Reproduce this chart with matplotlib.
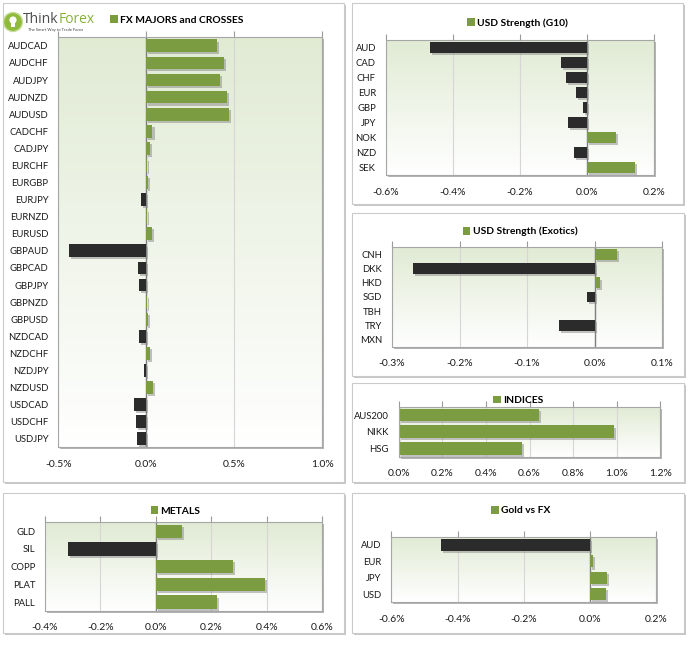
import numpy as np
import matplotlib.pyplot as plt
from matplotlib.patches import Rectangle, Patch, Circle
import matplotlib.patheffects as pe

plt.rcParams['font.family'] = ['Lato', 'DejaVu Sans']

W, H = 693, 647
GREEN = '#7c9c41'
DARK = '#2b2b2b'

# ---------------- DATA (% change) ----------------
fx_pairs = ['AUDCAD', 'AUDCHF', 'AUDJPY', 'AUDNZD', 'AUDUSD', 'CADCHF', 'CADJPY',
            'EURCHF', 'EURGBP', 'EURJPY', 'EURNZD', 'EURUSD', 'GBPAUD', 'GBPCAD',
            'GBPJPY', 'GBPNZD', 'GBPUSD', 'NZDCAD', 'NZDCHF', 'NZDJPY', 'NZDUSD',
            'USDCAD', 'USDCHF', 'USDJPY']
fx_vals = [0.40, 0.44, 0.42, 0.46, 0.47, 0.035, 0.02,
           0.002, 0.01, -0.03, 0.005, 0.03, -0.44, -0.045,
           -0.04, 0.003, 0.01, -0.04, 0.02, -0.015, 0.04,
           -0.07, -0.06, -0.055]

g10_ccy = ['AUD', 'CAD', 'CHF', 'EUR', 'GBP', 'JPY', 'NOK', 'NZD', 'SEK']
g10_vals = [-0.467, -0.078, -0.062, -0.032, -0.011, -0.056, 0.086, -0.038, 0.143]

exo_ccy = ['CNH', 'DKK', 'HKD', 'SGD', 'TBH', 'TRY', 'MXN']
exo_vals = [0.033, -0.269, 0.008, -0.011, 0.0, -0.053, 0.0]

idx_names = ['AUS200', 'NIKK', 'HSG']
idx_vals = [0.642, 0.986, 0.567]

metal_names = ['GLD', 'SIL', 'COPP', 'PLAT', 'PALL']
metal_vals = [0.093, -0.318, 0.277, 0.394, 0.219]

gold_ccy = ['AUD', 'EUR', 'JPY', 'USD']
gold_vals = [-0.451, 0.01, 0.052, 0.048]

# ---------------- FIGURE ----------------
fig = plt.figure(figsize=(W / 100, H / 100), dpi=100)
bg = fig.add_axes([0, 0, 1, 1], zorder=0)
bg.set_xlim(0, W)
bg.set_ylim(H, 0)
bg.axis('off')


def panel(x0, y0, x1, y1):
    bg.add_patch(Rectangle((x0 + 2, y0 + 2), x1 - x0, y1 - y0, fc='#c6c6c6', ec='none'))
    bg.add_patch(Rectangle((x0, y0), x1 - x0, y1 - y0, fc='white', ec='#cacaca', lw=0.8))


grad = np.linspace(0, 1, 256).reshape(-1, 1, 1)
top_c = np.array([0.88, 0.92, 0.83])
bot_c = np.array([1.0, 1.0, 1.0])
grad_img = top_c * (1 - grad) + bot_c * grad


def chart(plot, cats, vals, xlim, ticks, title, title_xy):
    x0, y0, x1, y1 = plot
    # plot area shadow
    bg.add_patch(Rectangle((x0 + 2, y0 + 2), x1 - x0, y1 - y0, fc='#b4b4b4', ec='none'))
    ax = fig.add_axes([x0 / W, 1 - y1 / H, (x1 - x0) / W, (y1 - y0) / H], zorder=1)
    ax.imshow(grad_img, extent=(0, 1, 0, 1), transform=ax.transAxes,
              aspect='auto', zorder=0)
    colors = [GREEN if v >= 0 else DARK for v in vals]
    y = np.arange(len(cats))
    bars = ax.barh(y, vals, height=0.75, color=colors, zorder=2)
    for b in bars:
        b.set_path_effects([pe.SimplePatchShadow(offset=(1.5, -1.5), shadow_rgbFace='#888888', alpha=0.5),
                            pe.Normal()])
    ax.axvline(0, color='#7f7f7f', lw=1, zorder=1.5)
    ax.set_xlim(*xlim)
    ax.set_ylim(len(cats) - 0.5, -0.5)
    ax.set_xticks(ticks)
    ax.set_xticklabels(['{:.1f}%'.format(t) for t in ticks])
    ax.set_yticks(y)
    ax.set_yticklabels(cats)
    ax.grid(axis='x', color='#d6d6d6', lw=0.8, zorder=1)
    ax.set_axisbelow(True)
    ax.tick_params(axis='x', top=True, bottom=False, labeltop=False, labelbottom=True,
                   length=4, color='#9a9a9a', pad=5, labelsize=7.5, labelcolor='#1a1a1a')
    ax.tick_params(axis='y', left=False, length=0, pad=7, labelsize=6.8, labelcolor='#1a1a1a')
    for s in ax.spines.values():
        s.set_color('#a6a6a6')
        s.set_linewidth(0.8)
    handle = Patch(facecolor=GREEN, edgecolor='none')
    fig.legend(handles=[handle], labels=[title], loc='center',
               bbox_to_anchor=(title_xy[0] / W, 1 - title_xy[1] / H),
               frameon=False, handlelength=0.75, handleheight=0.75, handletextpad=0.2,
               prop={'weight': 'bold', 'size': 7.4})
    return ax


# panel boxes
panel(3, 3, 344, 482)
panel(352, 3, 683, 204)
panel(352, 213, 684, 376)
panel(352, 383, 684, 482)
panel(3, 493, 344, 633)
panel(352, 493, 684, 633)

chart((58.3, 37.3, 322.3, 447.3), fx_pairs, fx_vals, (-0.5, 1.0),
      [-0.5, 0.0, 0.5, 1.0], 'FX MAJORS and CROSSES', (177, 20))
chart((385.7, 40, 654, 175.3), g10_ccy, g10_vals, (-0.6, 0.2),
      [-0.6, -0.4, -0.2, 0.0, 0.2], 'USD Strength (G10)', (517.5, 23))
chart((392, 247.3, 662.3, 346.7), exo_ccy, exo_vals, (-0.3, 0.1),
      [-0.3, -0.2, -0.1, 0.0, 0.1], 'USD Strength (Exotics)', (520, 231.7))
chart((398.7, 406.7, 660.3, 456.7), idx_names, idx_vals, (0.0, 1.2),
      [0.0, 0.2, 0.4, 0.6, 0.8, 1.0, 1.2], 'INDICES', (518.5, 400.5))
chart((45, 522.3, 322.3, 611), metal_names, metal_vals, (-0.4, 0.6),
      [-0.4, -0.2, 0.0, 0.2, 0.4, 0.6], 'METALS', (175.5, 511))
chart((391.3, 536.7, 656.3, 602.3), gold_ccy, gold_vals, (-0.6, 0.2),
      [-0.6, -0.4, -0.2, 0.0, 0.2], 'Gold vs FX', (520.5, 510.7))

# ---------------- LOGO ----------------
bg.add_patch(Circle((13, 22), 9.5, fc='#8fba3c', ec='#c9dd9a', lw=1))
bg.add_patch(Circle((13, 20), 3.6, fc='white', ec='none'))
bg.add_patch(Rectangle((11.3, 23), 3.4, 3.5, fc='white', ec='none'))
t1 = bg.text(23, 19.5, 'Think', fontsize=10, color='#4d4d4d', va='center', ha='left',
             family=['Open Sans', 'DejaVu Sans'])
renderer = fig.canvas.get_renderer()
ext = t1.get_window_extent(renderer=renderer)
x_forex = bg.transData.inverted().transform((ext.x1, ext.y0))[0]
bg.text(x_forex, 19.5, 'Forex', fontsize=10, color='#86b23a', va='center', ha='left',
        family=['Open Sans', 'DejaVu Sans'])
bg.text(28, 30.5, 'The Smart Way to Trade Forex', fontsize=3, color='#444444',
        va='center', ha='left')

fig.savefig('out.png', dpi=100)
